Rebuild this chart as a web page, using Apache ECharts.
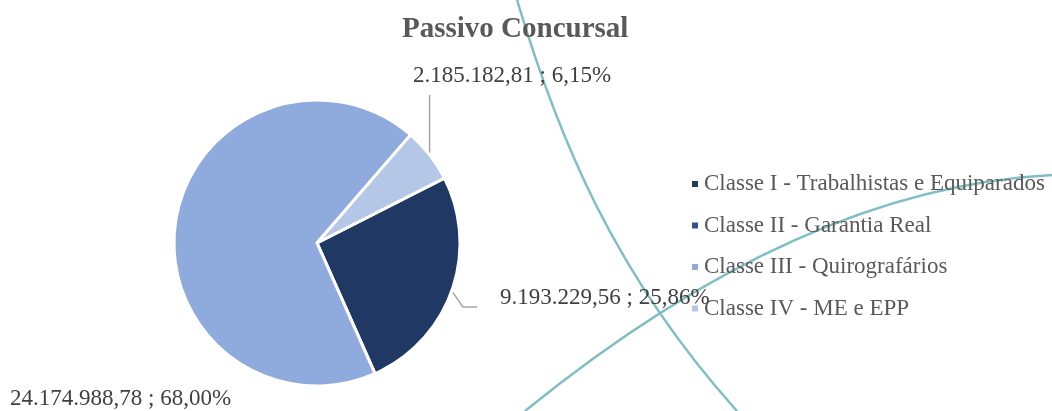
<!DOCTYPE html>
<html>
<head>
<meta charset="utf-8">
<title>Passivo Concursal</title>
<script src="https://cdn.jsdelivr.net/npm/echarts@6/dist/echarts.min.js"></script>
<style>
    html, body { margin: 0; padding: 0; background: #fff; }
    #chart { width: 1052px; height: 411px; }
</style>
</head>
<body>
<div id="chart"></div>
<script>
// dados do grafico
var categorias = ['Classe I - Trabalhistas e Equiparados', 'Classe II - Garantia Real', 'Classe III - Quirografários', 'Classe IV - ME e EPP']
var valores = [9193229.56, 0, 24174988.78, 2185182.81]
var rotulos = ['9.193.229,56 ; 25,86%', '', '24.174.988,78 ; 68,00%', '2.185.182,81 ; 6,15%']
var cores = ['#1f3864', '#2f5597', '#8faadc', '#b4c7e7']

var fonte = '"Liberation Serif", "DejaVu Serif", serif'

var chart = echarts.init(document.getElementById('chart'))
chart.setOption({
    animation: false,
    title: {
        text: 'Passivo Concursal',
        left: 397,
        top: 10,
        textStyle: {
            fontFamily: fonte,
            fontSize: 29,
            fontWeight: 'bold',
            color: '#595959'
        }
    },
    legend: {
        orient: 'vertical',
        left: 690,
        top: 172,
        padding: 0,
        itemWidth: 8,
        itemHeight: 8,
        itemGap: 17.5,
        icon: 'rect',
        data: categorias,
        textStyle: {
            fontFamily: fonte,
            fontSize: 23,
            lineHeight: 24,
            color: '#595959'
        }
    },
    // arcos decorativos do fundo
    graphic: {
        elements: [{
            type: 'bezierCurve',
            z: -10,
            shape: { x1: 517, y1: 0, cpx1: 558, cpy1: 137, cpx2: 614, cpy2: 274, x2: 737, y2: 411 },
            style: { stroke: '#7fbfc4', lineWidth: 2.5, fill: null }
        }, {
            type: 'bezierCurve',
            z: -10,
            shape: { x1: 525, y1: 411, cpx1: 701, cpy1: 268, cpx2: 876, cpy2: 184, x2: 1052, y2: 175 },
            style: { stroke: '#7fbfc4', lineWidth: 2.5, fill: null }
        }]
    },
    series: [{
        type: 'pie',
        center: [317, 243],
        radius: 143,
        startAngle: 27,
        clockwise: true,
        legendHoverLink: false,
        itemStyle: {
            borderColor: '#fff',
            borderWidth: 3
        },
        label: {
            show: true,
            fontFamily: fonte,
            fontSize: 23,
            color: '#404040',
            overflow: 'none',
            formatter: function (p) {
                return rotulos[p.dataIndex]
            }
        },
        labelLine: {
            show: true,
            length: 10,
            length2: 10,
            lineStyle: { color: '#a6a6a6', width: 1.5 }
        },
        labelLayout: function (p) {
            var pts = p.labelLinePoints
            var p0 = pts ? pts[0] : [0, 0]
            if (p.dataIndex === 0) {
                return {
                    x: 500, y: 298, align: 'left', verticalAlign: 'middle',
                    labelLinePoints: [p0, [463, 307], [477, 307]]
                }
            }
            if (p.dataIndex === 2) {
                return { x: 10, y: 399, align: 'left', verticalAlign: 'middle', width: 260 }
            }
            if (p.dataIndex === 3) {
                return {
                    x: 413, y: 76, align: 'left', verticalAlign: 'middle',
                    labelLinePoints: [[p0[0], p0[1]], [p0[0], 120], [p0[0], 95]]
                }
            }
            return {}
        },
        data: categorias.map(function (c, i) {
            var item = { name: c, value: valores[i], itemStyle: { color: cores[i] } }
            if (i === 1) {
                item.label = { show: false }
                item.labelLine = { show: false }
            }
            if (i === 2) {
                item.labelLine = { show: false }
            }
            return item
        })
    }]
})
</script>
</body>
</html>
